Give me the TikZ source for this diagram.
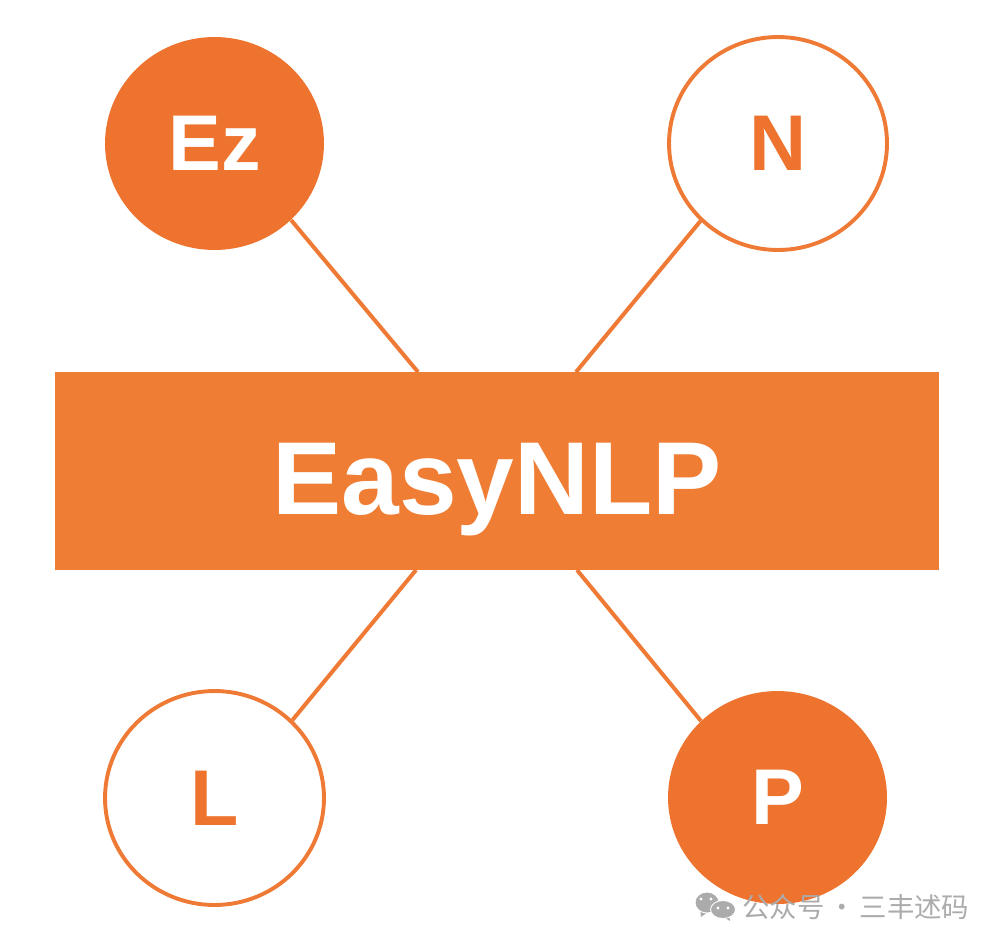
\documentclass[tikz,border=0pt]{standalone}
\usepackage{fontspec}
\setmainfont{Liberation Sans}
\newfontfamily\cjkfont{Noto Sans CJK SC}
\usetikzlibrary{shapes.geometric}
\definecolor{barorange}{HTML}{EF7D33}
\definecolor{ballorange}{HTML}{EE732E}
\definecolor{linkorange}{HTML}{EE7A35}
\definecolor{markgray}{HTML}{ABABAB}
\tikzset{
    ballfull/.style={ellipse, fill=ballorange, inner sep=0pt, text=white,
        font=\fontsize{45}{45}\selectfont\bfseries},
    ballring/.style={ellipse, draw=linkorange, line width=0.078cm, fill=white, inner sep=0pt,
        text=ballorange, font=\fontsize{45}{45}\selectfont\bfseries},
    link/.style={draw=linkorange, line width=0.08cm},
    markbubble/.style={ellipse, fill=markgray, draw=white, line width=0.5pt, inner sep=0pt}
}
\begin{document}
\begin{tikzpicture}[x=0.02cm, y=-0.02cm]
    \useasboundingbox (0,0) rectangle (999,946);

    % Thanh giữa
    \node[fill=barorange, text=white, inner sep=0pt, minimum width=17.68cm, minimum height=3.96cm,
        text height=1.74cm, text depth=0pt,
        font=\fontsize{59}{59}\selectfont\bfseries] (bar) at (497,471) {EasyNLP};

    % Bốn vòng tròn
    \node[ballfull, minimum width=4.38cm, minimum height=4.26cm] (ez) at (214.5,143.5) {Ez};
    \node[ballring, minimum width=4.36cm, minimum height=4.26cm] (n) at (778,143.5) {N};
    \node[ballring, minimum width=4.38cm, minimum height=4.28cm] (l) at (214.5,798) {L};
    \node[ballfull, minimum width=4.38cm, minimum height=4.26cm] (p) at (777.5,797.5) {P};

    % Điểm nối trên thanh
    \coordinate (barez) at (418,372);
    \coordinate (barn) at (576,372);
    \coordinate (barl) at (416,570);
    \coordinate (barp) at (577,570);

    \draw[link] (ez.-45) -- (barez);
    \draw[link] (n.-135) -- (barn);
    \draw[link] (l.45) -- (barl);
    \draw[link] (p.135) -- (barp);

    % Dấu mờ
    \fill[markgray] (700,908) -- (701,917) -- (709,911) -- cycle;
    \node[markbubble, minimum width=0.48cm, minimum height=0.42cm] (bubbleback) at (707,902.5) {};
    \fill[markgray] (729,914) -- (730,921) -- (722,916) -- cycle;
    \node[markbubble, minimum width=0.50cm, minimum height=0.36cm] (bubblefront) at (723,909.5) {};
    \foreach \dotx/\doty in {701/899, 711/899, 718/908, 728/908}
        \fill[white] (\dotx,\doty) circle (1.6);
    \node[text=markgray, inner sep=0pt, anchor=west, font=\cjkfont\fontsize{15.6}{15.6}\selectfont] (mark) at (742,907) {\spaceskip=2.2pt 公众号 · 三丰述码};
\end{tikzpicture}
\end{document}
